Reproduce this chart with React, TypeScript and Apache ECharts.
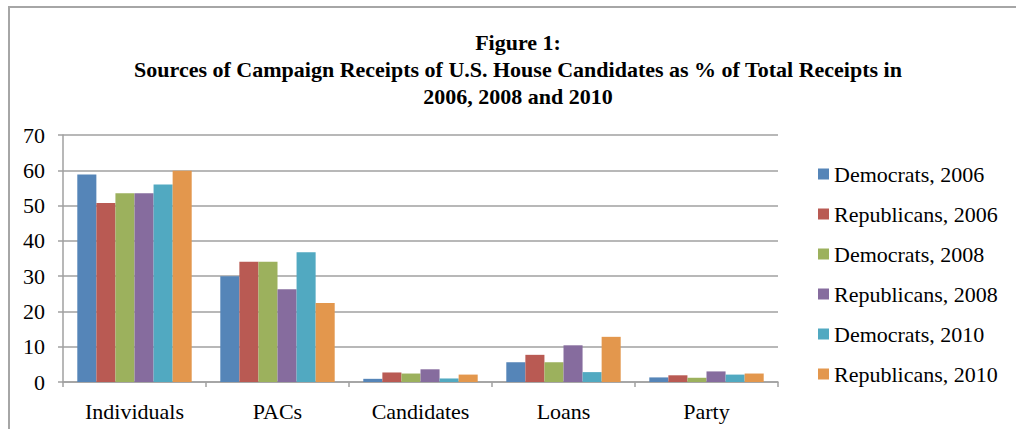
import React, { useEffect, useRef } from "react";
import * as echarts from "echarts";

const categories = ["Individuals", "PACs", "Candidates", "Loans", "Party"];
const seriesNames = [
  "Democrats, 2006",
  "Republicans, 2006",
  "Democrats, 2008",
  "Republicans, 2008",
  "Democrats, 2010",
  "Republicans, 2010",
];
const dem2006 = [58.8, 30.0, 0.9, 5.6, 1.3];
const rep2006 = [50.7, 34.1, 2.7, 7.7, 1.9];
const dem2008 = [53.5, 34.1, 2.4, 5.6, 1.2];
const rep2008 = [53.5, 26.3, 3.6, 10.4, 3.0];
const dem2010 = [56.0, 36.8, 1.0, 2.8, 2.1];
const rep2010 = [59.9, 22.4, 2.1, 12.8, 2.4];
const seriesValues = [dem2006, rep2006, dem2008, rep2008, dem2010, rep2010];
const colors = ["#5585B8", "#B95A53", "#9CB15D", "#866C9E", "#51A9C1", "#E3974D"];
const titleLines = [
  "Figure 1:",
  "Sources of Campaign Receipts of U.S. House Candidates as % of Total Receipts in",
  "2006, 2008 and 2010",
];

const FONT = "'Liberation Serif', 'Times New Roman', serif";

export default function App() {
  const ref = useRef<HTMLDivElement>(null);
  useEffect(() => {
    document.body.style.margin = "0";
    const chart = echarts.init(ref.current!, undefined, { renderer: "svg" });
    chart.setOption({
      animation: false,
      color: colors,
      textStyle: { fontFamily: FONT },
      graphic: [
        {
          type: "line",
          shape: { x1: 8, y1: 7, x2: 1016, y2: 7 },
          style: { stroke: "#a6a6a6", lineWidth: 2 },
        },
        {
          type: "line",
          shape: { x1: 9, y1: 6, x2: 9, y2: 429 },
          style: { stroke: "#a6a6a6", lineWidth: 2 },
        },
        ...titleLines.map((t, i) => ({
          type: "text",
          x: 518,
          y: [42, 69, 96][i],
          style: {
            text: t,
            fontFamily: FONT,
            fontWeight: "bold",
            fontSize: 22,
            fill: "#000",
            align: "center",
            verticalAlign: "middle",
          },
        })),
      ],
      grid: { left: 63, right: 238, top: 135, bottom: 47 },
      legend: {
        orient: "vertical",
        left: 818,
        top: 163,
        padding: 0,
        itemWidth: 11,
        itemHeight: 11,
        itemGap: 18,
        icon: "rect",
        textStyle: { fontFamily: FONT, fontSize: 22, color: "#000" },
        data: seriesNames,
      },
      xAxis: {
        type: "category",
        data: categories,
        axisLine: { lineStyle: { color: "#a0a0a0", width: 1.5 } },
        axisTick: { show: true, length: 5, lineStyle: { color: "#a0a0a0", width: 1.5 } },
        axisLabel: { fontFamily: FONT, fontSize: 22, color: "#000", margin: 18 },
      },
      yAxis: {
        type: "value",
        min: 0,
        max: 70,
        interval: 10,
        axisLine: { show: true, lineStyle: { color: "#a0a0a0", width: 1.5 } },
        axisTick: { show: true, length: 5, lineStyle: { color: "#a0a0a0", width: 1.5 } },
        splitLine: { lineStyle: { color: "#a0a0a0", width: 1.5 } },
        axisLabel: { fontFamily: FONT, fontSize: 22, color: "#000", margin: 18 },
      },
      series: seriesNames.map((name, i) => ({
        name,
        type: "bar",
        data: seriesValues[i],
        barGap: "0%",
        barCategoryGap: "20%",
        itemStyle: { color: colors[i] },
      })),
    });
    return () => chart.dispose();
  }, []);
  return <div ref={ref} style={{ width: 1016, height: 429 }} />;
}
